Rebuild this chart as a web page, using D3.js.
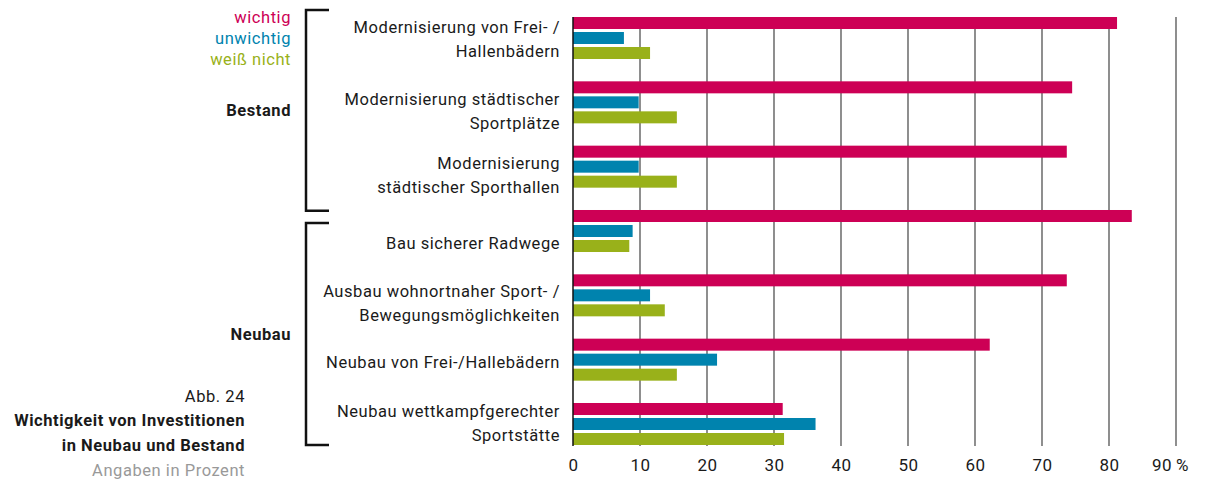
<!DOCTYPE html>
<html>
<head>
<meta charset="utf-8">
<script src="https://cdn.jsdelivr.net/npm/d3@7"></script>
<style>
  body { margin: 0; background: #fff; }
  svg text { font-family: Roboto, "Noto Sans", sans-serif; fill: #1a1a1a; letter-spacing: 0.55px; }
</style>
</head>
<body>
<div id="chart"></div>
<script>
'use strict';

// categories (label lines)
let categories = [
	['Modernisierung von Frei- /', 'Hallenbädern'],
	['Modernisierung städtischer', 'Sportplätze'],
	['Modernisierung', 'städtischer Sporthallen'],
	['Bau sicherer Radwege'],
	['Ausbau wohnortnaher Sport- /', 'Bewegungsmöglichkeiten'],
	['Neubau von Frei-/Hallebädern'],
	['Neubau wettkampfgerechter', 'Sportstätte']
];
let series = ['wichtig', 'unwichtig', 'weiß nicht'];
let wichtig   = [81.2, 74.5, 73.7, 83.4, 73.7, 62.2, 31.3];
let unwichtig = [7.6, 9.8, 9.8, 8.9, 11.5, 21.5, 36.2];
let weissNicht = [11.5, 15.5, 15.5, 8.4, 13.7, 15.5, 31.5];
let ticks = [0, 10, 20, 30, 40, 50, 60, 70, 80, 90];
let groups = [{name: 'Bestand', from: 0, to: 2}, {name: 'Neubau', from: 3, to: 6}];
let caption = ['Abb. 24', 'Wichtigkeit von Investitionen', 'in Neubau und Bestand', 'Angaben in Prozent'];

let colors = ['#cd0055', '#0083ae', '#99b11a'];
let labelShift = [1, 9, 9, 12, 8, 3, -1];

let values = [wichtig, unwichtig, weissNicht];
let rows = categories.map((c, i) => ({
	id: i,
	lines: c,
	vals: series.map((s, j) => ({key: s, value: values[j][i]}))
}));

let svg = d3.select('#chart').append('svg')
	.attr('width', 1205)
	.attr('height', 484);

let x = d3.scaleLinear().domain([0, 90]).range([573, 1176]);
let y = d3.scaleBand().domain(rows.map(d => d.id)).range([17, 445]).paddingInner(0.347).paddingOuter(0);
let ys = d3.scaleBand().domain(series).range([0, y.bandwidth()]).paddingInner(0.2);
let color = d3.scaleOrdinal().domain(series).range(colors);

// grid
svg.append('g')
	.selectAll('line')
	.data(ticks.slice(1))
	.join('line')
	.attr('x1', d => x(d)).attr('x2', d => x(d))
	.attr('y1', 17).attr('y2', 446)
	.style('stroke', '#444')
	.style('stroke-width', 1.2);

// bars
svg.append('g')
	.selectAll('g')
	.data(rows)
	.join('g')
	.attr('transform', d => `translate(0,${y(d.id)})`)
	.selectAll('rect')
	.data(d => d.vals)
	.join('rect')
	.attr('x', x(0))
	.attr('y', d => ys(d.key))
	.attr('width', d => x(d.value) - x(0))
	.attr('height', ys.bandwidth())
	.style('fill', d => color(d.key));

// zero axis
svg.append('line')
	.attr('x1', x(0)).attr('x2', x(0))
	.attr('y1', 17).attr('y2', 446)
	.style('stroke', '#111')
	.style('stroke-width', 1.5);

// x axis labels
let axis = d3.axisBottom(x)
	.tickValues(ticks)
	.tickSize(0)
	.tickFormat(d => d === 90 ? '90\u2009%' : d);
let ax = svg.append('g')
	.attr('transform', 'translate(0,456)')
	.call(axis);
ax.select('.domain').remove();
ax.selectAll('text')
	.style('font-size', '17px')
	.style('font-family', 'Roboto, sans-serif')
	.style('fill', '#1a1a1a')
	.attr('dx', d => d === 90 ? -6 : 0);

// category labels
let lab = svg.append('g')
	.selectAll('text')
	.data(rows)
	.join('text')
	.attr('text-anchor', 'end')
	.style('font-size', '16.5px')
	.attr('transform', (d, i) => `translate(560,${y(d.id) + y.bandwidth() / 2 + labelShift[i]})`);
lab.selectAll('tspan')
	.data(d => d.lines.map((l, k) => ({l, k, n: d.lines.length})))
	.join('tspan')
	.attr('x', 0)
	.attr('y', d => (d.k - (d.n - 1) / 2) * 24)
	.attr('dy', '0.35em')
	.text(d => d.l);

// brackets
let br = svg.append('g');
groups.forEach(g => {
	let top = y(g.from) - 7;
	let bot = y(g.to) + y.bandwidth();
	if (g.from > 0) top = y(g.from) + 13;
	if (g.to < rows.length - 1) bot = y(g.to) + y.bandwidth() + 23;
	br.append('path')
		.attr('d', `M329,${top}H306V${bot}H329`)
		.style('fill', 'none')
		.style('stroke', '#111')
		.style('stroke-width', 2.5);
	br.append('text')
		.attr('x', 291)
		.attr('y', (top + bot) / 2)
		.attr('dy', '0.35em')
		.attr('text-anchor', 'end')
		.style('font-size', '16.5px')
		.style('font-weight', 'bold')
		.text(g.name);
});

// legend
svg.append('g')
	.selectAll('text')
	.data(series)
	.join('text')
	.attr('x', 291)
	.attr('y', (d, i) => 17 + i * 21)
	.attr('dy', '0.35em')
	.attr('text-anchor', 'end')
	.style('font-size', '16.5px')
	.style('fill', d => color(d))
	.text(d => d);

// caption
svg.append('g')
	.selectAll('text')
	.data(caption)
	.join('text')
	.attr('x', 245)
	.attr('y', (d, i) => 396 + i * 24.7)
	.attr('dy', '0.35em')
	.attr('text-anchor', 'end')
	.style('font-size', '16.5px')
	.style('font-weight', (d, i) => i === 1 || i === 2 ? 'bold' : 'normal')
	.style('fill', (d, i) => i === 3 ? '#999' : '#1a1a1a')
	.text(d => d);
</script>
</body>
</html>
